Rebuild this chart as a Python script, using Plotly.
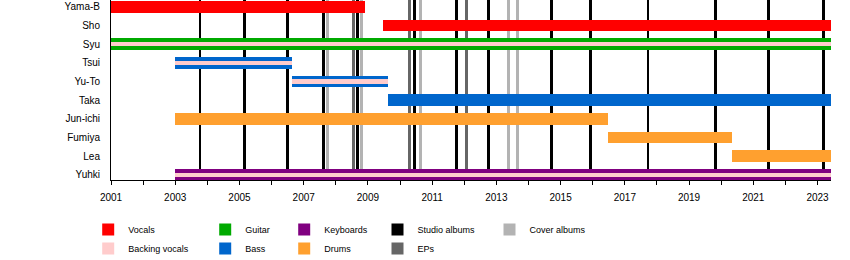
import plotly.graph_objects as go

# ---------------- data ----------------
members = ["Yama-B", "Sho", "Syu", "Tsui", "Yu-To", "Taka",
           "Jun-ichi", "Fumiya", "Lea", "Yuhki"]
END = 2023.42

vocals_member = ["Yama-B", "Sho"]
vocals_start = [2001.0, 2009.47]
vocals_end = [2008.91, END]

guitar_member = ["Syu"]
guitar_start = [2001.0]
guitar_end = [END]

bass_member = ["Tsui", "Yu-To", "Taka"]
bass_start = [2003.0, 2006.64, 2009.64]
bass_end = [2006.64, 2009.64, END]

keyboards_member = ["Yuhki"]
keyboards_start = [2003.0]
keyboards_end = [END]

drums_member = ["Jun-ichi", "Fumiya", "Lea"]
drums_start = [2003.0, 2016.47, 2020.33]
drums_end = [2016.47, 2020.33, END]

backing_member = ["Syu", "Tsui", "Yu-To", "Yuhki"]
backing_start = [2001.0, 2003.0, 2006.64, 2003.0]
backing_end = [END, 2006.64, 2009.64, END]

studio_albums = [2003.77, 2005.17, 2006.50, 2007.61, 2008.67, 2010.45, 2011.77,
                 2012.75, 2014.73, 2015.94, 2017.72, 2019.82, 2021.48, 2023.19]
eps = [2008.55, 2010.29, 2012.07]
cover_albums = [2007.74, 2008.80, 2010.64, 2013.38, 2013.65]

year_first, year_last = 2001, 2023

# ---------------- styles ----------------
FONT = "Liberation Sans, Arial, sans-serif"
C_VOC = "#ff0000"
C_BACK = "#ffcccc"
C_GUIT = "#00aa00"
C_BASS = "#0066cc"
C_KEYS = "#800080"
C_DRUM = "#ffa02f"
C_STUDIO = "#000000"
C_EP = "#666666"
C_COVER = "#b3b3b3"

row = {m: i for i, m in enumerate(members)}
L, R, T, B = 111, 19, 0, 80
W, H = 850, 260
PW = W - L - R
PH = H - T - B

fig = go.Figure()

LINE_W = 0.09


def release_trace(dates, name, color, legend, rank):
    fig.add_trace(go.Bar(
        x=dates, y=[10.0] * len(dates), base=-0.5, width=LINE_W,
        orientation="v", marker=dict(color=color, line=dict(width=0)),
        name=name, legend=legend, legendrank=rank, hoverinfo="skip"))


release_trace(cover_albums, "Cover albums", C_COVER, "legend5", 1)
release_trace(eps, "EPs", C_EP, "legend4", 2)
release_trace(studio_albums, "Studio albums", C_STUDIO, "legend4", 1)

BAR_W = 0.63
STRIPE_W = 0.22


def role_trace(mem, start, end, name, color, legend, rank, width=BAR_W):
    fig.add_trace(go.Bar(
        y=[row[m] for m in mem], base=start,
        x=[e - s for s, e in zip(start, end)],
        width=width, orientation="h",
        marker=dict(color=color, line=dict(width=0)),
        name=name, legend=legend, legendrank=rank, hoverinfo="skip"))


role_trace(vocals_member, vocals_start, vocals_end, "Vocals", C_VOC, "legend", 1)
role_trace(guitar_member, guitar_start, guitar_end, "Guitar", C_GUIT, "legend2", 1)
role_trace(bass_member, bass_start, bass_end, "Bass", C_BASS, "legend2", 2)
role_trace(keyboards_member, keyboards_start, keyboards_end, "Keyboards", C_KEYS, "legend3", 1)
role_trace(drums_member, drums_start, drums_end, "Drums", C_DRUM, "legend3", 2)
role_trace(backing_member, backing_start, backing_end, "Backing vocals", C_BACK,
           "legend", 2, width=STRIPE_W)

# legend columns (pixel positions of symbol centres)
col_centres = [111.2, 228.2, 307.2, 400.5, 512.5]
legend_top_px = 215


def px_to_paper_x(px):
    return (px - L) / PW


def px_to_paper_y(py):
    return 1 - (py - T) / PH


legend_common = dict(orientation="v", xanchor="left", yanchor="top",
                     bgcolor="rgba(0,0,0,0)", borderwidth=0,
                     font=dict(family=FONT, size=9, color="#000"),
                     traceorder="normal")
legends = {}
for i, c in enumerate(col_centres):
    key = "legend" if i == 0 else f"legend{i + 1}"
    legends[key] = dict(legend_common, x=px_to_paper_x(c - 23),
                        y=px_to_paper_y(legend_top_px))

fig.update_layout(
    width=W, height=H,
    margin=dict(l=L, r=R, t=T, b=B, pad=0, autoexpand=False),
    paper_bgcolor="white", plot_bgcolor="white",
    barmode="overlay", bargap=0,
    font=dict(family=FONT, size=10, color="#000"),
    showlegend=True,
    xaxis=dict(range=[year_first, END], tickmode="linear", tick0=year_first, dtick=2,
               ticks="outside", ticklen=4, tickwidth=1, tickcolor="#000",
               minor=dict(dtick=1, tick0=year_first, ticks="outside", ticklen=4,
                          tickcolor="#000", showgrid=False),
               showline=True, linecolor="#000", linewidth=1,
               showgrid=False, zeroline=False, ticklabelstandoff=4,
               automargin=False,
               tickfont=dict(family=FONT, size=10, color="#000")),
    yaxis=dict(range=[9.28, -0.364], tickmode="array",
               tickvals=list(range(len(members))), ticktext=members,
               ticks="", showline=True, linecolor="#000", linewidth=1,
               showgrid=False, zeroline=False, ticklabelstandoff=8,
               automargin=False,
               tickfont=dict(family=FONT, size=10, color="#000")),
    **legends,
)

fig.write_html("out.html")
